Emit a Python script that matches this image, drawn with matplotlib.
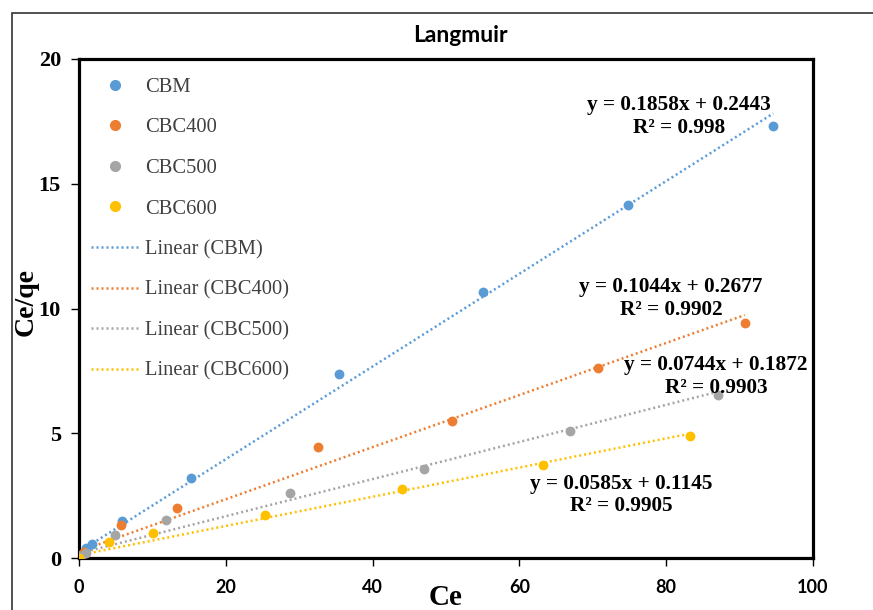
import numpy as np
import matplotlib
matplotlib.use("Agg")
import matplotlib.pyplot as plt
from matplotlib.lines import Line2D
from matplotlib.patches import Rectangle

# data (Ce vs Ce/qe)
cbm_x = [0.1, 0.9, 1.8, 5.9, 15.3, 35.4, 55.0, 74.8, 94.6]
cbm_y = [0.12, 0.42, 0.56, 1.48, 3.2, 7.36, 10.68, 14.16, 17.32]
c400_x = [0.1, 0.7, 5.7, 13.3, 32.6, 50.8, 70.7, 90.7]
c400_y = [0.06, 0.24, 1.32, 2.0, 4.44, 5.48, 7.6, 9.4]
c500_x = [0.3, 1.0, 4.9, 11.9, 28.7, 47.0, 66.9, 87.1]
c500_y = [0.1, 0.2, 0.92, 1.52, 2.6, 3.56, 5.08, 6.52]
c600_x = [0.0, 4.1, 10.1, 25.3, 44.0, 63.2, 83.2]
c600_y = [0.0, 0.64, 1.0, 1.72, 2.76, 3.72, 4.89]

names = ["CBM", "CBC400", "CBC500", "CBC600"]
colors = ["#5B9BD5", "#ED7D31", "#A5A5A5", "#FFC000"]
slopes = [0.1858, 0.1044, 0.0744, 0.0585]
intercepts = [0.2443, 0.2677, 0.1872, 0.1145]
r2 = ["0.998", "0.9902", "0.9903", "0.9905"]

xs = [cbm_x, c400_x, c500_x, c600_x]
ys = [cbm_y, c400_y, c500_y, c600_y]

fig = plt.figure(figsize=(8.73, 6.10), dpi=100)
ax = fig.add_axes([79/873, 1-558/610, (813-79)/873, (558-59)/610])

dot = (0, (0.8, 1.2))
for x, y, c in zip(xs, ys, colors):
    ax.scatter(x, y, s=50, color=c, zorder=3, linewidths=0)
for x, c, m, b in zip(xs, colors, slopes, intercepts):
    xx = np.array([min(x), max(x)])
    ax.plot(xx, m*xx + b, color=c, lw=1.8, linestyle=dot, zorder=2)

ax.set_xlim(0, 100)
ax.set_ylim(0, 20)
ax.set_xticks([0, 20, 40, 60, 80, 100])
ax.set_yticks([0, 5, 10, 15, 20])
for s in ax.spines.values():
    s.set_linewidth(2.3)
ax.tick_params(direction='out', length=6, width=1)
ax.tick_params(axis='x', pad=9)
ax.tick_params(axis='y', pad=7)
for lab in ax.get_xticklabels():
    lab.set_fontfamily('Lato')
    lab.set_fontweight('bold')
    lab.set_fontsize(13)
for lab in ax.get_yticklabels():
    lab.set_fontfamily('Liberation Serif')
    lab.set_fontweight('bold')
    lab.set_fontsize(16)

fig.text(446/873, 1-605/610, "Ce", ha='center', va='baseline',
         fontfamily='Liberation Serif', fontweight='bold', fontsize=21)
fig.text(26/873, 1-302/610, "Ce/qe", ha='center', va='center', rotation=90,
         fontfamily='Liberation Serif', fontweight='bold', fontsize=20)

fig.text(460/873, 1-35/610, "Langmuir", ha='center', va='center',
         fontfamily='Lato', fontweight='bold', fontsize=16.5)

# legend
handles = []
for n, c in zip(names, colors):
    handles.append(Line2D([], [], marker='o', color=c, ls='none', markersize=7, label=n))
for n, c in zip(names, colors):
    handles.append(Line2D([], [], color=c, lw=1.8, ls=dot, label="Linear (%s)" % n))
ax.legend(handles=handles, loc='upper left', bbox_to_anchor=(12/734, 1-18.5/499),
          frameon=False, borderpad=0, borderaxespad=0, handlelength=2.35,
          handletextpad=0.28, labelspacing=1.03,
          prop={'family': 'Liberation Serif', 'size': 14.8}, labelcolor='#404040')

# equations
eq_pos = [(679, 116.5), (671, 298.5), (716, 376.5), (621, 495)]
for (px, py), m, b, r in zip(eq_pos, slopes, intercepts, r2):
    fig.text(px/873, 1-py/610, "y = %.4fx + %.4f\nR² = %s" % (m, b, r), ha='center', va='center',
             fontfamily='Liberation Serif', fontweight='bold', fontsize=15.3, linespacing=1.18)

fig.patches.append(Rectangle((12/873, -0.05), 1.0, 1.05 - 13/610,
                             transform=fig.transFigure, fill=False, ec='#333333', lw=1.2))

fig.savefig("out.png", dpi=100)
